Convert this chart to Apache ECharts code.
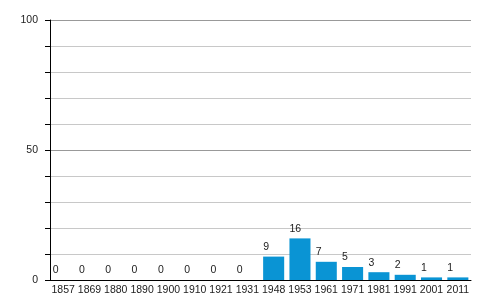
<!DOCTYPE html>
<html><head><meta charset="utf-8">
<script src="https://cdn.jsdelivr.net/npm/echarts@6/dist/echarts.min.js"></script>
<style>html,body{margin:0;padding:0;background:#fff}#c{width:500px;height:300px}</style>
</head><body><div id="c"></div>
<script>
const categories = ['1857','1869','1880','1890','1900','1910','1921','1931','1948','1953','1961','1971','1981','1991','2001','2011'];
const values = [0,0,0,0,0,0,0,0,9,16,7,5,3,2,1,1];
const yLabels = [0,50,100];

const chart = echarts.init(document.getElementById('c'), null, {renderer:'canvas'});
chart.setOption({
  animation:false,
  textStyle:{fontFamily:'Liberation Sans, Arial, sans-serif'},
  grid:{left:50,right:29,top:20,bottom:20,containLabel:false},
  xAxis:{
    type:'category', data:categories,
    axisLine:{lineStyle:{color:'#000',width:1}},
    axisTick:{show:false},
    axisLabel:{color:'#222',fontSize:10.5,margin:5,interval:0}
  },
  yAxis:{
    type:'value', min:0, max:100, interval:10,
    axisLine:{show:true,lineStyle:{color:'#000',width:1}},
    axisTick:{show:true,length:5,lineStyle:{color:'#000'}},
    axisLabel:{color:'#222',fontSize:10.5,margin:12,
      formatter:v=>yLabels.includes(v)?String(v):''},
    splitLine:{show:true,lineStyle:{color:['#999','#c8c8c8','#c8c8c8','#c8c8c8','#c8c8c8'],width:1}}
  },
  series:[{
    type:'bar', data:values, barCategoryGap:'20%',
    itemStyle:{color:'#0a94d4'},
    label:{show:true,position:[0,-4],align:'left',verticalAlign:'bottom',color:'#222',fontSize:10.5}
  }]
});
</script></body></html>
